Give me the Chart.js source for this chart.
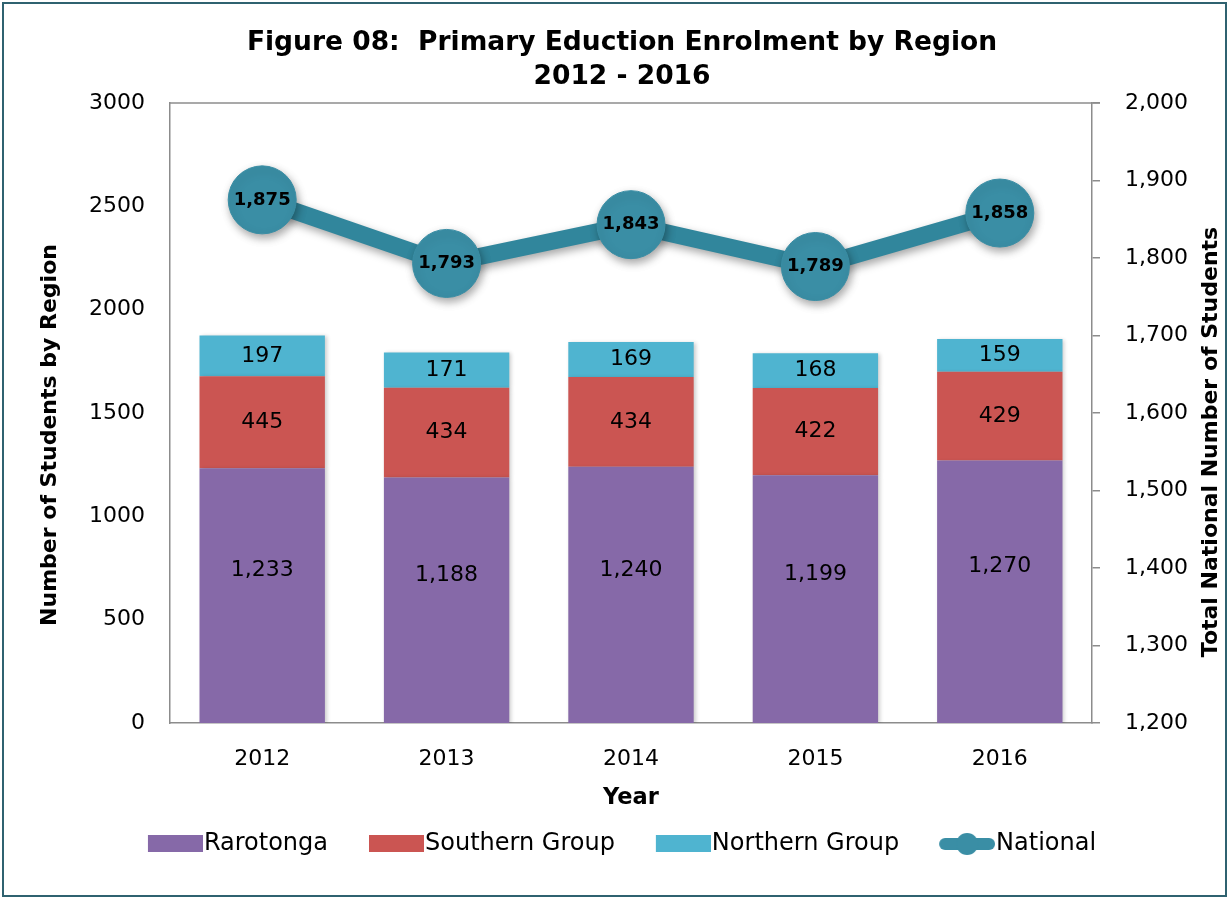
<!DOCTYPE html>
<html>
<head>
<meta charset="utf-8">
<style>
  html, body { margin: 0; padding: 0; background: #fff; }
  #wrap { width: 1229px; height: 899px; position: relative; }
</style>
<script src="https://cdn.jsdelivr.net/npm/chart.js@4.4.1/dist/chart.umd.min.js"></script>
</head>
<body>
<div id="wrap"><canvas id="chart" width="1229" height="899"></canvas></div>
<script>
const years = ["2012", "2013", "2014", "2015", "2016"];
const rarotonga = [1233, 1188, 1240, 1199, 1270];
const southernGroup = [445, 434, 434, 422, 429];
const northernGroup = [197, 171, 169, 168, 159];
const national = [1875, 1793, 1843, 1789, 1858];

const FONT = "'DejaVu Sans', sans-serif";
const AXIS_GRAY = "#8c8c8c";

// legend swatch images (box drawn at the right end so the text sits right after it)
function swatch(color, isLine) {
  const c = document.createElement("canvas");
  c.width = 66; c.height = 24;
  const g = c.getContext("2d");
  g.fillStyle = color;
  if (isLine) {
    g.lineCap = "round";
    g.strokeStyle = color;
    g.lineWidth = 12;
    g.beginPath(); g.moveTo(16, 12); g.lineTo(60, 12); g.stroke();
    g.beginPath(); g.arc(38, 12, 11, 0, Math.PI * 2); g.fill();
  } else {
    g.fillRect(11, 3, 55, 17);
  }
  return c;
}

function sideTitle(ctx, text, x, y) {
  ctx.save();
  ctx.fillStyle = "#000";
  ctx.font = "bold 22px " + FONT;
  ctx.textAlign = "center";
  ctx.textBaseline = "middle";
  ctx.translate(x, y);
  ctx.rotate(-Math.PI / 2);
  ctx.fillText(text, 0, 0);
  ctx.restore();
}

const labelPlugin = {
  id: "labels",
  beforeDraw(chart) {
    const { ctx, chartArea: a } = chart;
    ctx.save();
    ctx.fillStyle = "#fff";
    ctx.fillRect(0, 0, chart.width, chart.height);
    ctx.strokeStyle = "#2f6270";
    ctx.lineWidth = 2;
    ctx.strokeRect(3, 3, chart.width - 6, chart.height - 6);
    ctx.strokeStyle = AXIS_GRAY;
    ctx.lineWidth = 1.5;
    ctx.beginPath();
    ctx.moveTo(a.left, a.top);
    ctx.lineTo(a.right + 8, a.top);
    ctx.stroke();
    ctx.restore();
    // axis titles, both read bottom to top
    sideTitle(ctx, "Number of Students by Region", 50, 435);
    sideTitle(ctx, "Total National Number of Students", 1211, 442);
  },
  beforeDatasetDraw(chart, args) {
    const ctx = chart.ctx;
    ctx.save();
    if (args.index === 3) {
      ctx.shadowColor = "rgba(0,0,0,0.35)";
      ctx.shadowBlur = 8;
      ctx.shadowOffsetX = 2;
      ctx.shadowOffsetY = 4;
    } else {
      ctx.shadowColor = "rgba(0,0,0,0.2)";
      ctx.shadowBlur = 4;
      ctx.shadowOffsetX = 2;
      ctx.shadowOffsetY = 1;
    }
  },
  afterDatasetDraw(chart) {
    chart.ctx.restore();
  },
  afterDatasetsDraw(chart) {
    const ctx = chart.ctx;
    ctx.save();
    ctx.fillStyle = "#000";
    ctx.textAlign = "center";
    ctx.textBaseline = "middle";
    chart.data.datasets.forEach((ds, i) => {
      const meta = chart.getDatasetMeta(i);
      meta.data.forEach((el, j) => {
        const txt = ds.data[j].toLocaleString("en-US");
        if (ds.type === "line") {
          ctx.font = "bold 18px " + FONT;
          ctx.fillText(txt, el.x, el.y);
        } else {
          ctx.font = "22px " + FONT;
          let y = (el.y + el.base) / 2;
          if (i === 0) y -= 25;
          ctx.fillText(txt, el.x, y);
        }
      });
    });
    ctx.restore();
  }
};

new Chart(document.getElementById("chart"), {
  data: {
    labels: years,
    datasets: [
      {
        type: "bar", label: "Rarotonga", data: rarotonga,
        backgroundColor: "#8669a8", yAxisID: "y", order: 2,
        legendImg: swatch("#8669a8", false)
      },
      {
        type: "bar", label: "Southern Group", data: southernGroup,
        backgroundColor: "#cb5552", yAxisID: "y", order: 2,
        legendImg: swatch("#cb5552", false)
      },
      {
        type: "bar", label: "Northern Group", data: northernGroup,
        backgroundColor: "#4fb4d0", yAxisID: "y", order: 2,
        legendImg: swatch("#4fb4d0", false)
      },
      {
        type: "line", label: "National", data: national,
        yAxisID: "y1", order: 1,
        borderColor: "#31869c", borderWidth: 17,
        pointRadius: 34, pointHoverRadius: 34,
        pointBackgroundColor: "#3a8ea5", pointBorderColor: "#3a8ea5", pointBorderWidth: 1,
        tension: 0,
        legendImg: swatch("#3a8ea5", true)
      }
    ]
  },
  options: {
    responsive: false,
    animation: false,
    events: [],
    layout: { padding: { top: 10, left: 20, right: 5, bottom: 33 } },
    datasets: { bar: { categoryPercentage: 1, barPercentage: 0.68 } },
    scales: {
      x: {
        stacked: true,
        grid: { display: false, drawTicks: false },
        border: { display: true, color: AXIS_GRAY, width: 1.5 },
        ticks: { color: "#000", padding: 23, font: { family: FONT, size: 22 } },
        title: {
          display: true, text: "Year", color: "#000",
          font: { family: FONT, size: 22.5, weight: "bold" },
          padding: { top: 0, bottom: -20.5 }
        },
        afterFit: (s) => { s.height = 68; }
      },
      y: {
        stacked: true,
        position: "left",
        min: 0, max: 3000,
        grid: { display: false, drawTicks: false },
        border: { display: true, color: AXIS_GRAY, width: 1.5 },
        ticks: {
          stepSize: 500, color: "#000", padding: 25, font: { family: FONT, size: 22 },
          callback: (v) => String(v)
        },
        afterFit: (s) => { s.width = 150; }
      },
      y1: {
        position: "right",
        min: 1200, max: 2000,
        grid: { drawOnChartArea: false, drawTicks: true, tickLength: 8, color: AXIS_GRAY, lineWidth: 1.5 },
        border: { display: true, color: AXIS_GRAY, width: 1.5 },
        ticks: {
          stepSize: 100, color: "#000", padding: 25, font: { family: FONT, size: 22 },
          callback: (v) => v.toLocaleString("en-US")
        },
        afterFit: (s) => { s.width = 132; }
      }
    },
    plugins: {
      title: {
        display: true,
        text: ["Figure 08:  Primary Eduction Enrolment by Region", "2012 - 2016"],
        color: "#000",
        font: { family: FONT, size: 26.5, weight: "bold", lineHeight: 1.283 },
        padding: { top: 16, bottom: 9 }
      },
      legend: {
        position: "bottom",
        labels: {
          usePointStyle: true,
          pointStyleWidth: 44,
          padding: 41,
          color: "#000",
          font: { family: FONT, size: 24 },
          generateLabels: (chart) => chart.data.datasets.map((ds, i) => ({
            text: ds.label,
            pointStyle: ds.legendImg,
            fillStyle: "transparent",
            strokeStyle: "transparent",
            lineWidth: 0,
            datasetIndex: i
          }))
        }
      },
      tooltip: { enabled: false }
    }
  },
  plugins: [labelPlugin]
});
</script>
</body>
</html>
